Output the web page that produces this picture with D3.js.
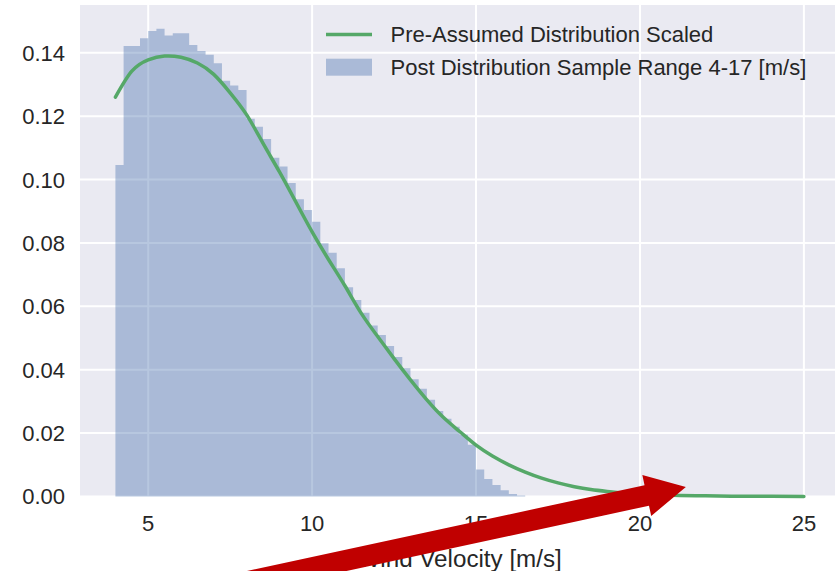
<!DOCTYPE html>
<html>
<head>
<meta charset="utf-8">
<script src="https://cdn.jsdelivr.net/npm/d3@7"></script>
<style>
  body { margin: 0; background: #fff; }
  text { font-family: "Liberation Sans", Arial, sans-serif; fill: #262626; }
</style>
</head>
<body>
<script>
// Sample histogram: density per 0.25 m/s bin, first bin starts at 4 m/s
const histStart = 4;
const histStep = 0.25;
const histDensity = [
    0.1046, 0.1422, 0.1422, 0.1446, 0.1469, 0.1476, 0.1455, 0.1462, 0.1462, 0.1425,
    0.1406, 0.1394, 0.1367, 0.1312, 0.1297, 0.1283, 0.1192, 0.1167, 0.1128, 0.1069,
    0.1041, 0.0989, 0.0938, 0.0904, 0.0867, 0.0799, 0.0769, 0.0720, 0.0660, 0.0620,
    0.0580, 0.0540, 0.0510, 0.0475, 0.0440, 0.0405, 0.0370, 0.0340, 0.0305, 0.0270,
    0.0245, 0.0220, 0.0195, 0.0163, 0.0085, 0.0055, 0.0036, 0.0020, 0.0008, 0.0003
];

// Assumed distribution, scaled
const curveSpeed = [4, 4.5, 5, 5.5, 6, 6.5, 7, 7.5, 8, 8.5, 9, 9.5, 10, 10.5, 11, 11.5,
    12, 12.5, 13, 13.5, 14, 14.5, 15, 15.5, 16, 16.5, 17, 17.5, 18, 18.5, 19, 19.5,
    20, 21, 22, 23, 24, 25];
const curveDensity = [0.1260, 0.1342, 0.1378, 0.1390, 0.1386, 0.1368, 0.1332, 0.1274,
    0.1205, 0.1115, 0.1025, 0.0930, 0.0835, 0.0748, 0.0665, 0.0578, 0.0505, 0.0435,
    0.0368, 0.0305, 0.0250, 0.0205, 0.0162, 0.0128, 0.0100, 0.0077, 0.0058, 0.0043,
    0.0031, 0.0022, 0.0016, 0.0011, 0.0008, 0.0004, 0.0002, 0.0001, 0.00005, 0.00002];

const xTicks = [5, 10, 15, 20, 25];
const yTicks = [0, 0.02, 0.04, 0.06, 0.08, 0.10, 0.12, 0.14];
const xLim = [2.92, 26.08];
const yLim = [0, 0.1551];

const legendLabels = ["Pre-Assumed Distribution Scaled", "Post Distribution Sample Range 4-17 [m/s]"];
const xLabel = "Wind Velocity [m/s]";

// Pointer annotation, in data units
const arrowTail = [6.58, -0.0301];
const arrowTip = [21.40, 0.003];

const width = 835, height = 571;
const barColor = "#4C72B0", lineColor = "#55A868";

const svg = d3.select("body").append("svg")
    .attr("width", width)
    .attr("height", height);

const x = d3.scaleLinear().domain(xLim).range([80, 839.3]);
const y = d3.scaleLinear().domain(yLim).range([496.5, 5]);

// Axes background
svg.append("rect")
    .attr("x", x(xLim[0]))
    .attr("y", y(yLim[1]))
    .attr("width", x(xLim[1]) - x(xLim[0]))
    .attr("height", y(yLim[0]) - y(yLim[1]))
    .attr("fill", "#EAEAF2");

// Grid
const grid = svg.append("g").attr("stroke", "#fff").attr("stroke-width", 2);
grid.selectAll(".gx").data(xTicks).enter().append("line")
    .attr("x1", d => x(d)).attr("x2", d => x(d))
    .attr("y1", y(yLim[0])).attr("y2", y(yLim[1]));
grid.selectAll(".gy").data(yTicks).enter().append("line")
    .attr("x1", x(xLim[0])).attr("x2", x(xLim[1]))
    .attr("y1", d => y(d)).attr("y2", d => y(d));

// Histogram drawn as one stepped area so the translucent bins don't seam
const bins = histDensity.map((v, i) => ({ x0: histStart + i * histStep, v }));
bins.push({ x0: histStart + histDensity.length * histStep, v: histDensity[histDensity.length - 1] });

const histArea = d3.area()
    .x(d => x(d.x0))
    .y0(y(0))
    .y1(d => y(d.v))
    .curve(d3.curveStepAfter);

svg.append("path")
    .datum(bins)
    .attr("d", histArea)
    .attr("fill", barColor)
    .attr("fill-opacity", 0.4);

// Distribution curve
const line = d3.line()
    .x(d => x(d[0]))
    .y(d => y(d[1]))
    .curve(d3.curveNatural);

svg.append("path")
    .datum(curveSpeed.map((s, i) => [s, curveDensity[i]]))
    .attr("d", line)
    .attr("fill", "none")
    .attr("stroke", lineColor)
    .attr("stroke-width", 3.5)
    .attr("stroke-linecap", "round");

// Tick labels
svg.append("g").selectAll("text").data(yTicks).enter().append("text")
    .attr("x", 65)
    .attr("y", d => y(d))
    .attr("dy", "0.36em")
    .attr("text-anchor", "end")
    .attr("font-size", 22)
    .text(d => d.toFixed(2));

svg.append("g").selectAll("text").data(xTicks).enter().append("text")
    .attr("x", d => x(d))
    .attr("y", 531)
    .attr("text-anchor", "middle")
    .attr("font-size", 22)
    .text(d => d);

svg.append("text")
    .attr("x", (x(xLim[0]) + x(xLim[1])) / 2)
    .attr("y", 567)
    .attr("text-anchor", "middle")
    .attr("font-size", 24.2)
    .text(xLabel);

// Legend
const legend = svg.append("g").attr("transform", "translate(326,34.5)");
legend.append("line")
    .attr("x1", 0).attr("x2", 46)
    .attr("stroke", lineColor)
    .attr("stroke-width", 3.5);
legend.append("rect")
    .attr("x", 0).attr("y", 24.2)
    .attr("width", 46).attr("height", 17)
    .attr("fill", barColor)
    .attr("fill-opacity", 0.4);
legend.selectAll(".lab").data(legendLabels).enter().append("text")
    .attr("x", 64.5)
    .attr("y", (d, i) => i * 32.7)
    .attr("dy", "0.36em")
    .attr("font-size", 22)
    .text(d => d);

// Red pointer arrow
const t0 = [x(arrowTail[0]), y(arrowTail[1])];
const t1 = [x(arrowTip[0]), y(arrowTip[1])];
const len = Math.hypot(t1[0] - t0[0], t1[1] - t0[1]);
const u = [(t1[0] - t0[0]) / len, (t1[1] - t0[1]) / len];
const n = [-u[1], u[0]];
const headLen = 40, headHalf = 21, shaftHalf = 10.5;
const base = [t1[0] - u[0] * headLen, t1[1] - u[1] * headLen];
const off = (p, k) => [p[0] + n[0] * k, p[1] + n[1] * k];

svg.append("path")
    .attr("d", d3.line()([
        off(t0, shaftHalf), off(base, shaftHalf), off(base, headHalf), t1,
        off(base, -headHalf), off(base, -shaftHalf), off(t0, -shaftHalf)
    ]) + "Z")
    .attr("fill", "#C00000");
</script>
</body>
</html>
